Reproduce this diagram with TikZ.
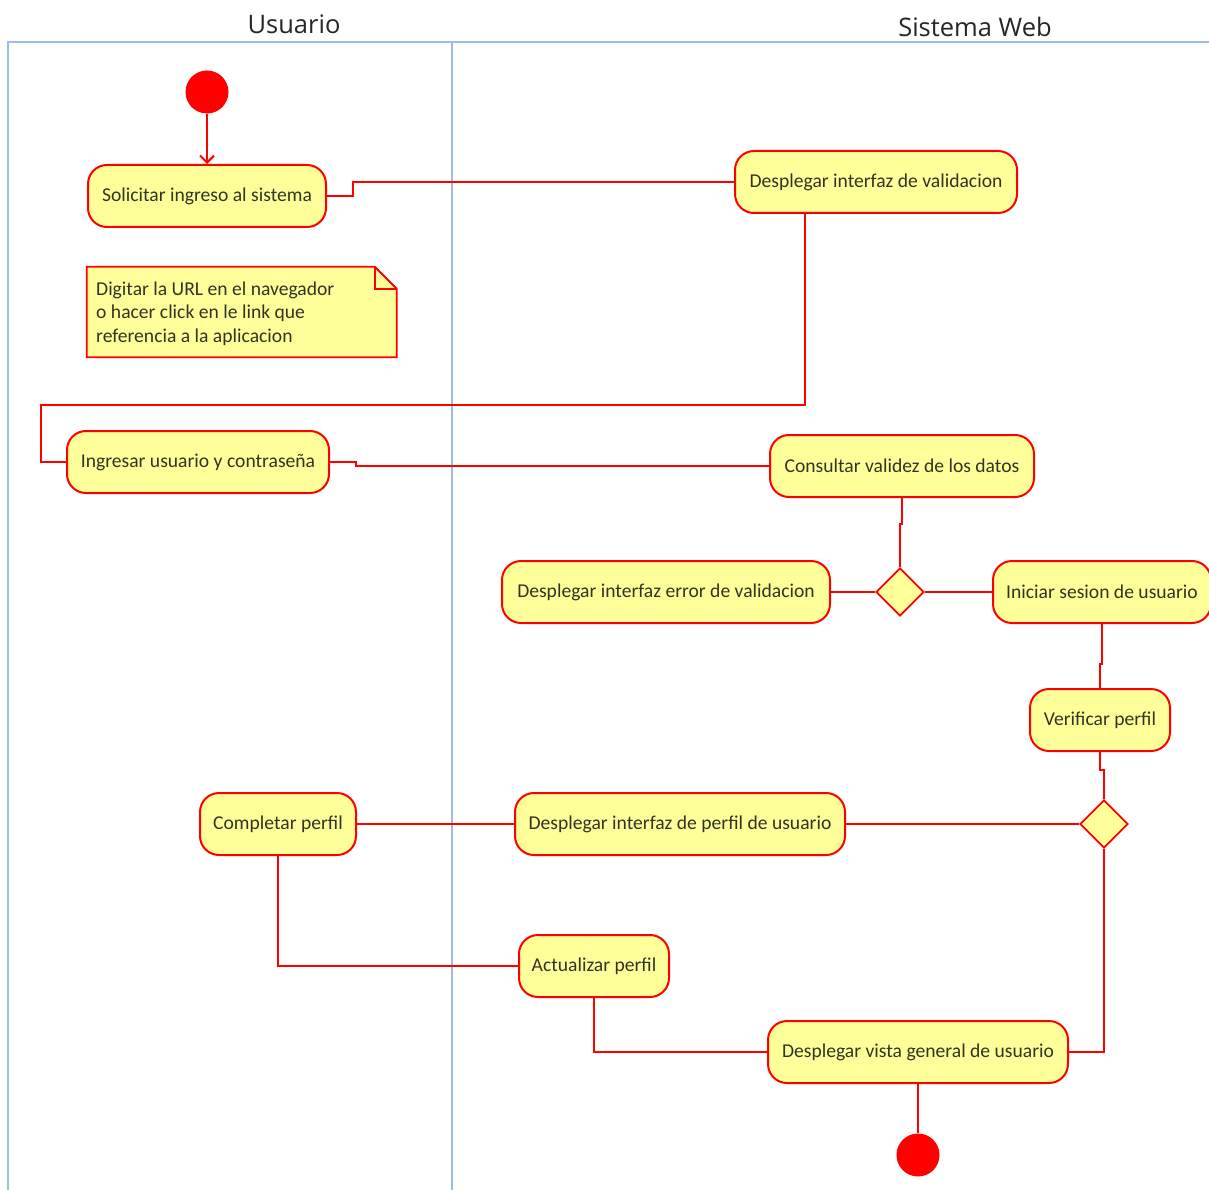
\documentclass[tikz,border=0pt]{standalone}
\usepackage{fontspec}
\setmainfont{Carlito}
\newfontfamily\titlefont{Open Sans}
\usetikzlibrary{shapes.geometric,arrows.meta,calc}
\definecolor{lane}{HTML}{9DBCE8}
\definecolor{actfill}{HTML}{FFFF99}
\definecolor{actline}{HTML}{FF0000}
\definecolor{txt}{HTML}{333322}
\begin{document}
\begin{tikzpicture}[x=1pt,y=-1pt,
  act/.style={draw=actline,fill=actfill,line width=2pt,rounded corners=19pt,
    minimum height=62pt,inner xsep=8pt,text=txt,font=\fontsize{19.6}{22}\selectfont},
  flow/.style={draw=actline,line width=2pt},
  dec/.style={diamond,draw=actline,fill=actfill,line width=1.8pt,minimum width=48pt,minimum height=48pt,inner sep=0pt},
  endpt/.style={circle,fill=red,minimum size=43pt,inner sep=0pt},
  lanetitle/.style={text=black!85,font=\titlefont\fontsize{25.5}{30}\selectfont}
]
\useasboundingbox (0,0) rectangle (1209,1190);
\fill[white] (0,0) rectangle (1209,1190);
% swimlanes
\draw[lane,line width=2pt] (8,1190) -- (8,42) -- (1209,42);
\draw[lane,line width=2pt] (452,42) -- (452,1190);
\node[lanetitle] (tU) at (294,24) {Usuario};
\node[lanetitle] (tS) at (975,27) {Sistema Web};

% nodes
\node[endpt] (start) at (207,92) {};
\node[act,minimum width=238pt] (sol) at (207,196) {Solicitar ingreso al sistema};
\node[act,minimum width=282pt] (dval) at (876,182) {Desplegar interfaz de validacion};
\node[act,minimum width=262pt] (ing) at (198,462) {Ingresar usuario y contraseña};
\node[act,minimum width=264pt] (cons) at (902,466) {Consultar validez de los datos};
\node[dec] (d1) at (900,592) {};
\node[act,minimum width=328pt] (err) at (666,592) {Desplegar interfaz error de validacion};
\node[act,minimum width=218pt] (ini) at (1102,592) {Iniciar sesion de usuario};
\node[act,minimum width=140pt] (ver) at (1100,720) {Verificar perfil};
\node[dec] (d2) at (1104,824) {};
\node[act,minimum width=330pt] (dper) at (680,824) {Desplegar interfaz de perfil de usuario};
\node[act,minimum width=156pt] (comp) at (278,824) {Completar perfil};
\node[act,minimum width=150pt] (act) at (594,966) {Actualizar perfil};
\node[act,minimum width=300pt] (vista) at (918,1052) {Desplegar vista general de usuario};
\node[endpt] (fin) at (918,1155) {};

% note
\node[minimum width=310pt,minimum height=90pt,inner sep=0pt] (note) at (242,312) {};
\fill[actfill] (note.north west) -- ++(288,0) -- ++(22,22) |- (note.south west) -- cycle;
\draw[actline,line width=1.8pt] (note.north west) -- ++(288,0) -- ++(22,22) |- (note.south west) -- cycle;
\draw[actline,line width=1.8pt] ($(note.north west)+(288,0)$) -- ++(0,22) -- ++(22,0);
\node[anchor=west,align=left,text=txt,font=\fontsize{19.6}{23.5}\selectfont,inner sep=0pt] (notetxt) at (96,313.5) {Digitar la URL en el navegador\\o hacer click en le link que\\referencia a la aplicacion};

% connectors
\coordinate (c1) at (805,405);
\coordinate (c2) at (41,462);
\draw[flow,-{Straight Barb[length=7pt,width=14pt]}] (start) -- (sol.north);
\draw[flow] (sol.east) -- ++(26,0) |- (dval.west);
\draw[flow] (dval.south -| c1) -- (c1) -| (c2) -- (ing.west);
\draw[flow] (ing.east) -- ++(26,0) |- (cons.west);
\draw[flow] (cons.south) -- ++(0,26) -| (d1.north);
\draw[flow] (d1.west) -- (err.east);
\draw[flow] (d1.east) -- (ini.west);
\draw[flow] (ini.south) -- ++(0,40) -| (ver.north);
\draw[flow] (ver.south) -- ++(0,18) -| (d2.north);
\draw[flow] (d2.west) -- (dper.east);
\draw[flow] (dper.west) -- (comp.east);
\draw[flow] (comp.south) |- (act.west);
\draw[flow] (act.south) |- (vista.west);
\draw[flow] (d2.south) |- (vista.east);
\draw[flow] (vista.south) -- (fin);
\end{tikzpicture}
\end{document}
